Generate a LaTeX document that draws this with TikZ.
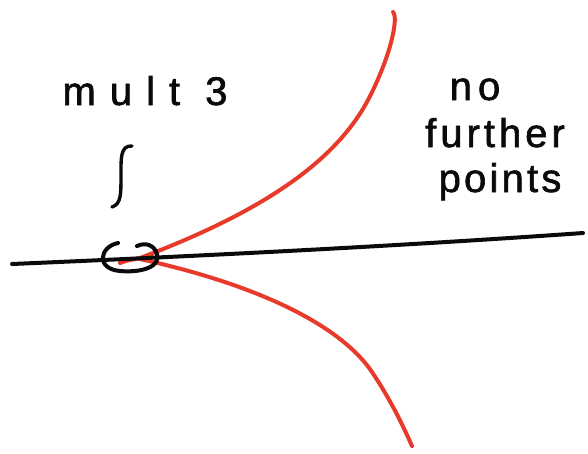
\documentclass[tikz,border=0pt]{standalone}
\usepackage{fontspec}
\newfontfamily\hand[FakeBold=1.5]{Liberation Sans}
\definecolor{penred}{RGB}{232,58,42}
\definecolor{penblack}{RGB}{10,10,10}
\tikzset{
  ink/.style={draw=penblack,line width=4pt,line cap=round,line join=round},
  redink/.style={draw=penred,line width=4pt,line cap=round,line join=round},
  label/.style={text=penblack,anchor=base,inner sep=0pt,font=\hand\fontsize{40}{46}\selectfont}
}
\begin{document}
\begin{tikzpicture}[x=1pt,y=-1pt]
\useasboundingbox (0,0) rectangle (588,453);
% red curve branches
\coordinate (cusp) at (120,263);
\draw[redink] (cusp) .. controls (130,259) and (142,258) .. (152,257);
\draw[redink] (140,258) .. controls (262,212) and (335,162) .. (368,100) .. controls (390,58) and (399,18) .. (393,12);
\draw[redink] (140,259) .. controls (250,283) and (338,322) .. (372,372) .. controls (392,402) and (404,428) .. (412,446);
% horizontal line
\draw[ink] (12,264) .. controls (200,256) and (400,246) .. (583,233);
% circle around cusp
\draw[ink] (118,243) .. controls (99,247) and (96,269) .. (120,271) .. controls (143,273) and (161,266) .. (157,254) .. controls (154,245) and (146,242) .. (137,246);
% integral-like connector
\draw[ink,line width=3.4pt] (132,146) .. controls (120,145) and (121,160) .. (121,175) .. controls (121,195) and (121,204) .. (112,207);
% labels
\node[label] (mult) at (145,105) {\addfontfeatures{LetterSpace=35}mult 3};
\node[label] (no) at (475,100) {\addfontfeatures{LetterSpace=15}no};
\node[label] (further) at (495,147) {\addfontfeatures{LetterSpace=10}further};
\node[label] (points) at (500,192) {\addfontfeatures{LetterSpace=8}points};
\end{tikzpicture}
\end{document}
